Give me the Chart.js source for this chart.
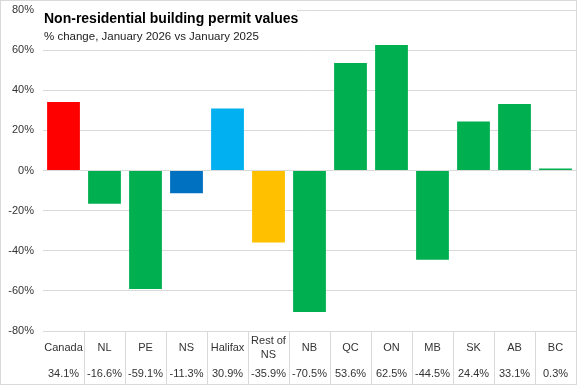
<!DOCTYPE html>
<html><head><meta charset="utf-8">
<script src="https://cdn.jsdelivr.net/npm/chart.js@4/dist/chart.umd.min.js"></script>
<style>html,body{margin:0;padding:0;background:#fff;}#wrap{width:577px;height:385px;position:relative;}</style>
</head><body><div id="wrap"><canvas id="c" width="577" height="385"></canvas></div>
<script>
const categories = ["Canada","NL","PE","NS","Halifax","Rest of NS","NB","QC","ON","MB","SK","AB","BC"];
const catLines = [["Canada"],["NL"],["PE"],["NS"],["Halifax"],["Rest of","NS"],["NB"],["QC"],["ON"],["MB"],["SK"],["AB"],["BC"]];
const values = [34.1,-16.6,-59.1,-11.3,30.9,-35.9,-70.5,53.6,62.5,-44.5,24.4,33.1,0.3];
const barColors = ["#FF0000","#00B050","#00B050","#0070C0","#00B0F0","#FFC000","#00B050","#00B050","#00B050","#00B050","#00B050","#00B050","#00B050"];
const titleText = "Non-residential building permit values";
const subtitleText = "% change, January 2026 vs January 2025";
const FONT = "'Liberation Sans', Arial, sans-serif";

const overlay = {
  id:'overlay',
  afterDraw(chart){
    const ctx = chart.ctx, ca = chart.chartArea, xs = chart.scales.x;
    ctx.save();
    ctx.fillStyle = '#fff';
    ctx.fillRect(43, 4, 254, 40);
    ctx.fillStyle = '#000';
    ctx.textBaseline = 'alphabetic';
    ctx.textAlign = 'left';
    ctx.font = "bold 14px " + FONT;
    ctx.fillText(titleText, 44, 23);
    ctx.font = "11.5px " + FONT;
    ctx.fillStyle = '#222';
    ctx.fillText(subtitleText, 44, 40);
    const n = categories.length;
    const w = (xs.getPixelForValue(1) - xs.getPixelForValue(0));
    ctx.strokeStyle = '#d9d9d9';
    ctx.lineWidth = 1;
    for (let i = 1; i < n; i++) {
      const x = Math.round(xs.getPixelForValue(i) - w/2) + 0.5;
      ctx.beginPath(); ctx.moveTo(x, ca.bottom); ctx.lineTo(x, 384); ctx.stroke();
    }
    ctx.font = "11px " + FONT;
    ctx.fillStyle = '#333';
    ctx.textAlign = 'center';
    ctx.textBaseline = 'middle';
    for (let i = 0; i < n; i++) {
      const cx = xs.getPixelForValue(i);
      const lines = catLines[i];
      if (lines.length === 1) ctx.fillText(lines[0], cx, 348);
      else { ctx.fillText(lines[0], cx, 341); ctx.fillText(lines[1], cx, 355); }
      ctx.fillText(values[i].toFixed(1) + '%', cx, 374);
    }
    ctx.strokeStyle = '#d9d9d9';
    ctx.strokeRect(0.5, 0.5, 576, 384);
    ctx.restore();
  }
};

new Chart(document.getElementById('c'), {
  type:'bar',
  data:{ labels: categories, datasets:[{ data: values, backgroundColor: barColors, barPercentage:0.8, categoryPercentage:1.0, minBarLength:2 }]},
  options:{
    responsive:false, animation:false,
    layout:{ padding:{ top:10, bottom:54, left:0, right:1 } },
    plugins:{ legend:{display:false}, tooltip:{enabled:false} },
    scales:{
      x:{ display:false },
      y:{
        min:-80, max:80,
        afterFit(s){ s.width = 43; s.paddingTop = 0; s.paddingBottom = 0; },
        border:{ display:false },
        grid:{ color:'#d9d9d9', drawTicks:false },
        ticks:{ stepSize:20, padding:9, color:'#333', font:{ family:FONT, size:11 }, callback:v => v + '%' }
      }
    }
  },
  plugins:[overlay]
});
</script></body></html>
